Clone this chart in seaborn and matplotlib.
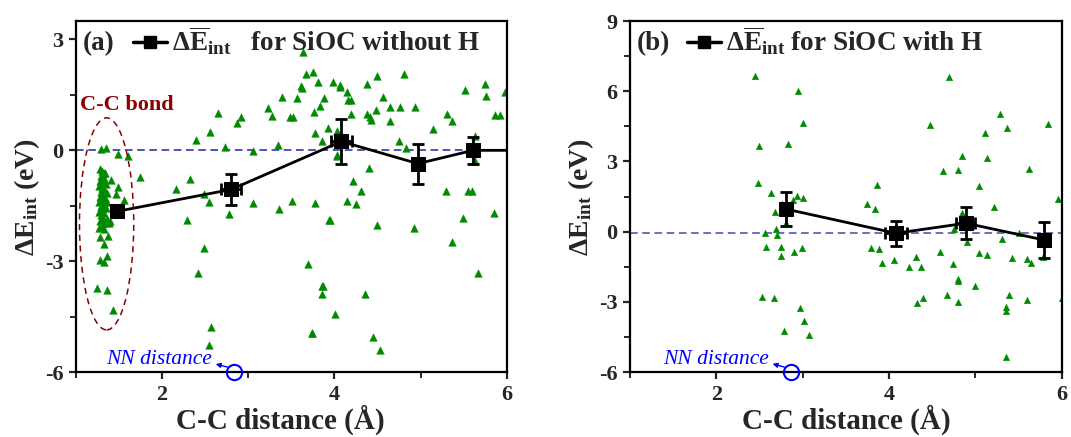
import numpy as np
import pandas as pd
import matplotlib
matplotlib.use('Agg')
import matplotlib.pyplot as plt
import seaborn as sns
from matplotlib.patches import Ellipse
from matplotlib.lines import Line2D
from matplotlib.ticker import MultipleLocator

# ---------------- data: panel (a) SiOC without H ----------------
a_x = [1.29, 1.35, 1.49, 1.60, 1.74, 1.28, 1.41, 1.49, 1.46, 1.56,
       1.28, 1.37, 1.33, 1.28, 1.36, 1.33, 1.24, 1.36, 1.43,
       1.30, 1.32, 1.29, 1.33, 1.28, 1.31, 1.35, 1.27, 1.30, 1.33,
       1.29, 1.36, 1.31, 1.28, 1.34, 1.30, 1.27, 1.32, 1.29, 1.35,
       1.30, 1.27, 1.33, 1.29, 1.31, 1.36, 1.28, 1.33, 1.30, 1.27,
       1.32, 1.38, 1.40, 1.36, 1.34,
       2.16, 2.32, 2.29, 2.39, 2.49, 2.49, 2.42, 2.54, 2.56, 2.57,
       2.54, 2.65, 2.73, 2.78, 2.87, 2.92, 3.05, 3.05, 3.23, 3.27,
       3.34, 3.36, 3.39, 3.48, 3.52, 3.51, 3.56, 3.61, 3.62, 3.64,
       3.67, 3.75, 3.69, 3.74, 3.78, 3.78, 3.76, 3.81, 3.83, 3.88,
       3.85, 3.92, 3.94, 3.95, 3.87, 3.86, 3.98, 4.01, 4.03, 4.06,
       4.07, 4.03, 4.03, 4.15, 4.16, 4.19, 4.15, 4.25, 4.49, 4.81,
       4.38, 4.56, 4.64, 4.76, 4.93, 4.48, 4.38, 4.41, 4.42, 4.19,
       4.65, 5.15, 5.31, 5.36, 5.52, 5.75, 5.76, 5.87, 5.92, 5.98,
       4.75, 4.83, 4.40, 4.22, 4.31, 5.30, 5.55, 5.60, 5.63, 5.63,
       4.50, 4.92, 5.49, 5.85, 5.36, 5.67, 4.36, 3.74, 4.45, 4.53,
       3.85]
a_y = [0.04, 0.06, -0.09, -0.16, -0.72, -0.50, -0.81, -0.99, -1.17, -1.35,
       -2.35, -2.31, -2.53, -2.98, -2.85, -3.01, -3.73, -3.77, -4.32,
       -0.55, -0.62, -0.70, -0.75, -0.83, -0.88, -0.92, -0.97, -1.02, -1.06,
       -1.12, -1.15, -1.20, -1.26, -1.30, -1.35, -1.40, -1.44, -1.50, -1.55,
       -1.60, -1.66, -1.70, -1.76, -1.82, -1.86, -1.92, -1.97, -2.04, -2.10,
       -2.14, -1.98, -1.92, -1.40, -0.60,
       -1.06, -0.78, -1.88, 0.28, -1.17, -2.65, -3.32, -1.41, 0.49, -4.77,
       -5.27, 1.02, 0.08, -1.72, 0.73, 0.89, -0.02, -1.43, 1.14, 0.94,
       0.15, -1.58, 1.44, 0.89, 0.91, -1.36, 1.41, 1.73, 1.68, 2.66,
       2.07, 2.11, -3.07, -4.95, 0.48, -1.43, 1.03, 1.84, 1.21, 1.41,
       0.25, 0.60, -1.88, -1.88, -3.67, -3.89, 1.86, -4.43, 0.53, 1.77,
       1.71, -0.14, -0.12, 1.59, 1.35, 1.35, -1.36, -1.44, 2.02, 2.07,
       1.80, 1.44, 1.18, 1.16, 1.16, 1.09, 0.99, 0.91, 0.82, 0.98,
       0.80, 0.58, 0.99, 0.80, 1.62, 1.79, 1.46, 0.96, 0.96, 1.57,
       0.25, 0.05, -0.49, -0.83, -1.10, -1.11, -1.09, -1.11, 0.40, -0.30,
       -2.03, -2.09, -1.83, -1.70, -2.47, -3.32, -3.88, -4.95, -5.04, -5.41,
       -3.66]
a_mean_x = [1.48, 2.80, 4.08, 4.97, 5.61, 6.50]
a_mean_y = [-1.65, -1.06, 0.24, -0.36, 0.00, 0.00]
a_mean_xerr = [0.0, 0.12, 0.12, 0.0, 0.0, 0.0]
a_mean_yerr = [0.0, 0.43, 0.60, 0.54, 0.37, 0.0]

# ---------------- data: panel (b) SiOC with H ----------------
b_x = [2.45, 2.95, 3.00, 2.50, 2.83, 2.48, 2.63, 2.76, 2.89, 2.94,
       3.00, 2.68, 2.81, 2.56, 2.69, 2.70, 2.58, 2.75, 2.75, 2.90,
       2.99, 2.53, 2.67, 2.97, 3.02, 2.78, 3.07,
       3.86, 3.75, 3.84, 3.79, 3.89, 3.92, 4.06, 4.23, 4.31, 4.37,
       4.33, 4.39, 4.59, 4.74, 4.80, 4.80, 4.67, 4.80, 4.75, 4.84,
       4.90, 5.00, 5.04, 5.14, 5.04, 5.22, 5.31, 5.42, 5.39, 5.36,
       5.35, 5.36, 5.51, 5.60, 5.65, 5.60, 5.78, 5.96, 6.00,
       4.70, 4.47, 5.29, 5.11, 5.37, 5.84, 4.85, 5.13, 4.63, 4.80, 5.62]
b_y = [6.65, 6.01, 4.63, 3.65, 3.73, 2.09, 1.66, 1.18, 1.33, 1.53,
       1.43, 0.83, 0.36, -0.07, 0.10, -0.15, -0.64, -0.64, -1.03, -0.88,
       -0.70, -2.78, -2.85, -3.25, -3.81, -4.24, -4.42,
       2.00, 1.20, 0.97, -0.69, -0.74, -1.33, -1.21, -1.53, -1.07, -1.53,
       -3.06, -2.85, -0.89, -1.40, -2.04, -2.12, -2.71, -2.99, 0.13, 0.81,
       -0.43, -2.31, -0.90, -1.00, 1.95, 1.04, -0.33, -1.12, -2.70, -3.24,
       -3.40, -5.35, -0.08, -1.16, -1.35, -2.93, -1.08, 1.39, -2.85,
       6.60, 4.55, 5.01, 4.22, 4.44, 4.58, 3.23, 3.13, 2.59, 2.63, 2.66]
b_mean_x = [2.81, 4.08, 4.89, 5.80]
b_mean_y = [0.96, -0.07, 0.36, -0.36]
b_mean_xerr = [0.0, 0.13, 0.11, 0.0]
b_mean_yerr = [0.73, 0.53, 0.68, 0.77]

nn_distance = [2.83, 2.86]
zero_line = [0.0, -0.05]
panel_tags = ['(a)', '(b)']
panel_labels = ['  for SiOC without H', 'for SiOC with H']
x_label = 'C-C distance (Å)'
y_label = r'$\Delta\mathrm{E}_{\mathrm{int}}$ (eV)'

# ---------------- style ----------------
sns.set_theme(style='ticks')
plt.rcParams['font.family'] = ['Liberation Serif', 'DejaVu Serif']
plt.rcParams['font.weight'] = 'bold'
plt.rcParams['mathtext.fontset'] = 'custom'
plt.rcParams['mathtext.rm'] = 'Liberation Serif:bold'
plt.rcParams['mathtext.bf'] = 'Liberation Serif:bold'
plt.rcParams['mathtext.it'] = 'Liberation Serif:bold:italic'
plt.rcParams['axes.linewidth'] = 1.6
plt.rcParams['axes.edgecolor'] = 'black'
plt.rcParams['axes.unicode_minus'] = False

fig = plt.figure(figsize=(10.71, 4.37), dpi=100)
ax1 = fig.add_axes([0.071, 0.1487, 0.4021, 0.8032])
ax2 = fig.add_axes([0.5882, 0.1487, 0.4031, 0.8032])

green = '#008a00'

def draw(ax, xs, ys, mx, my, mxe, mye, ylim, ymajor, tag, label, nn, zl,
         tri_s, nn_text_y, dash_color, xlabel_x):
    df = pd.DataFrame({'x': xs, 'y': ys})
    ax.axhline(zl, color=dash_color, ls=(0, (5, 3)), lw=1.1, zorder=1)
    sns.scatterplot(data=df, x='x', y='y', ax=ax, marker='^', s=tri_s,
                    color=green, edgecolor=green, linewidth=0.3, zorder=2)
    mdf = pd.DataFrame({'x': mx, 'y': my})
    sns.lineplot(data=mdf, x='x', y='y', ax=ax, color='black', lw=2.0,
                 marker='s', markersize=10, markeredgecolor='black',
                 sort=False, zorder=4)
    ax.errorbar(mx, my, xerr=mxe, yerr=mye, fmt='none', ecolor='black',
                elinewidth=2.0, capsize=4, capthick=2.0, zorder=3)
    ax.set_xlim(1, 6)
    ax.set_ylim(*ylim)
    ax.xaxis.set_major_locator(MultipleLocator(2))
    ax.xaxis.set_minor_locator(MultipleLocator(1))
    ax.yaxis.set_major_locator(MultipleLocator(ymajor))
    ax.yaxis.set_minor_locator(MultipleLocator(ymajor / 2))
    ax.tick_params(which='major', direction='out', length=5, width=1.6,
                   labelsize=16, pad=4)
    ax.tick_params(which='minor', direction='out', length=4, width=1.4)
    for lab in ax.get_xticklabels() + ax.get_yticklabels():
        lab.set_fontweight('bold')
    ax.set_xlabel(x_label, fontsize=21, fontweight='bold', labelpad=0)
    ax.xaxis.label.set_x(xlabel_x)
    ax.set_ylabel(y_label, fontsize=20, fontweight='bold', labelpad=2)
    for s in ax.spines.values():
        s.set_visible(True)
        s.set_linewidth(1.6)
    # NN distance marker
    span = ylim[1] - ylim[0]
    ax.plot([nn], [ylim[0]], marker='o', ms=11, mfc='none', mec='blue',
            mew=1.5, clip_on=False, zorder=6)
    ax.annotate('', xy=(nn - 0.24, nn_text_y - 0.01 * span),
                xytext=(nn - 0.04, ylim[0] + 0.012 * span),
                arrowprops=dict(arrowstyle='-|>', color='blue', lw=1.0,
                                mutation_scale=7))
    ax.text(nn - 0.25, nn_text_y, 'NN distance', color='blue', fontsize=15.5,
            fontstyle='italic', fontweight='normal', ha='right', va='center')
    # legend-like title
    h = Line2D([0], [0], color='black', lw=2.5, marker='s', markersize=8)
    ax.legend([h], [r'$\Delta\overline{\mathrm{E}}_{\mathrm{int}}$ ' + label],
              loc='upper left', bbox_to_anchor=(0.095, 1.035), frameon=False,
              handlelength=1.25, handletextpad=0.2, borderaxespad=0.2,
              prop={'size': 19.5, 'weight': 'bold'})
    ax.text(0.015, 0.97, tag, transform=ax.transAxes, fontsize=19.5,
            fontweight='bold', ha='left', va='top')

draw(ax1, a_x, a_y, a_mean_x, a_mean_y, a_mean_xerr, a_mean_yerr,
     (-6, 3.5), 3, panel_tags[0], panel_labels[0], nn_distance[0], zero_line[0],
     30, -5.67, '#2323a0', 0.475)
draw(ax2, b_x, b_y, b_mean_x, b_mean_y, b_mean_xerr, b_mean_yerr,
     (-6, 9), 3, panel_tags[1], panel_labels[1], nn_distance[1], zero_line[1],
     22, -5.47, '#4646b0', 0.5)

# C-C bond ellipse and label on panel (a)
ell = Ellipse((1.355, -1.99), width=0.63, height=5.74, fill=False,
              edgecolor='#8b0000', ls=(0, (4, 3)), lw=1.1, zorder=5)
ax1.add_patch(ell)
ax1.text(1.05, 1.23, 'C-C bond', color='#8b0000', fontsize=16,
         fontweight='bold', ha='left', va='center')

fig.savefig('out.png', dpi=100)
